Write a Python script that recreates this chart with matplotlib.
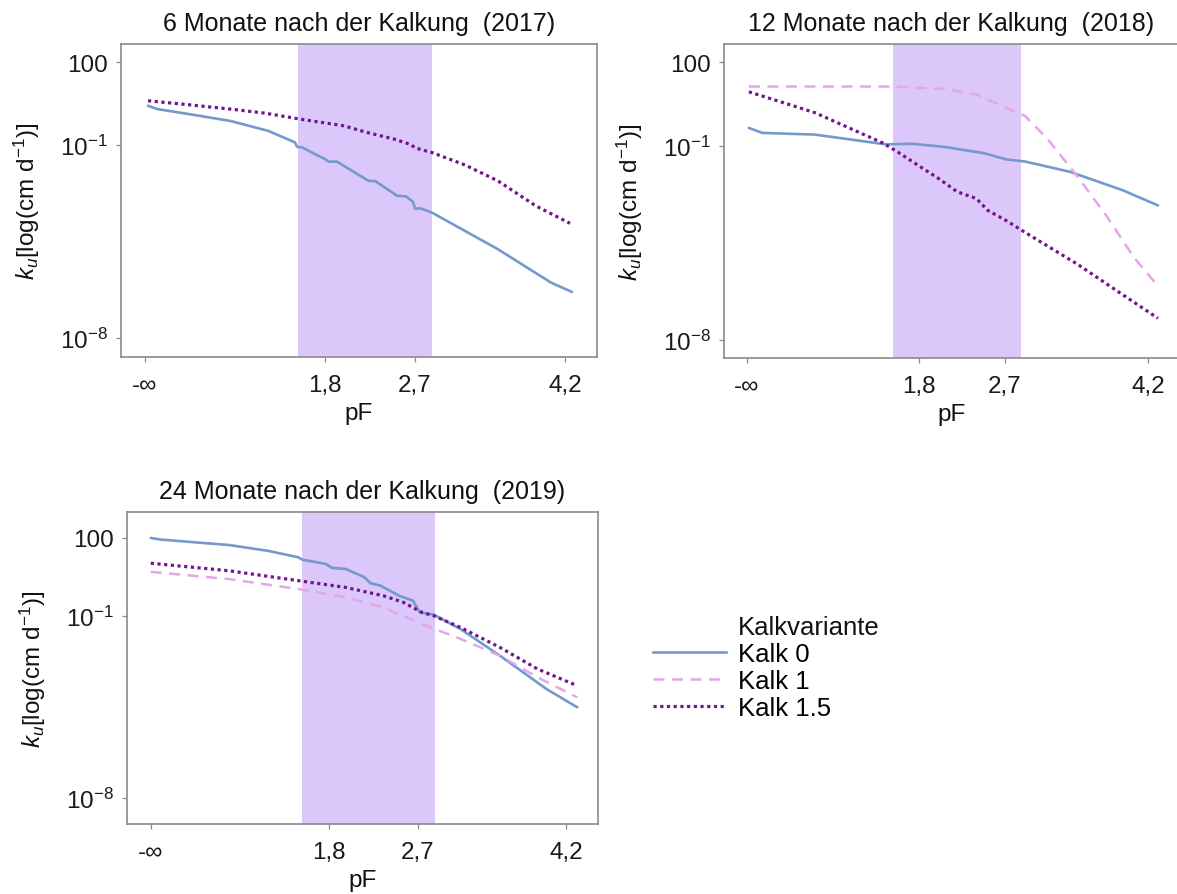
import matplotlib
matplotlib.use("Agg")
import numpy as np
import matplotlib.pyplot as plt
from matplotlib.lines import Line2D

plt.rcParams['font.family'] = ['Liberation Sans', 'DejaVu Sans']
plt.rcParams['mathtext.fontset'] = 'custom'
plt.rcParams['mathtext.rm'] = 'Liberation Sans'
plt.rcParams['mathtext.it'] = 'Liberation Sans:italic'
plt.rcParams['mathtext.bf'] = 'Liberation Sans:bold'

# ---- unsaturated hydraulic conductivity, log10(ku) over pF ----
# 2017 (6 months)
pf_17_k0 = [0.03, 0.12, 0.45, 0.85, 1.23, 1.50, 1.52, 1.57, 1.80, 1.84, 1.92, 2.20, 2.24, 2.30,
            2.49, 2.52, 2.61, 2.68, 2.70, 2.76, 2.87, 3.53, 4.06, 4.27]
lk_17_k0 = [0.43, 0.31, 0.12, -0.12, -0.48, -0.90, -1.06, -1.08, -1.51, -1.60, -1.60, -2.22, -2.30, -2.30,
            -2.76, -2.84, -2.86, -3.06, -3.30, -3.30, -3.45, -4.78, -5.99, -6.33]
pf_17_k15 = [0.03, 0.45, 0.85, 1.20, 1.54, 1.99, 2.22, 2.49, 2.66, 2.70, 2.87, 3.20, 3.53, 3.91, 4.25]
lk_17_k15 = [0.61, 0.46, 0.31, 0.16, -0.05, -0.30, -0.54, -0.78, -0.98, -1.10, -1.27, -1.72, -2.30, -3.21, -3.84]

# 2018 (12 months)
pf_18_k0 = [0.02, 0.16, 0.71, 1.45, 1.73, 2.08, 2.48, 2.71, 2.91, 3.38, 3.93, 4.30]
lk_18_k0 = [-0.36, -0.54, -0.60, -0.95, -0.93, -1.05, -1.27, -1.49, -1.57, -1.94, -2.60, -3.15]
pf_18_k1 = [0.02, 1.50, 2.08, 2.40, 2.67, 2.91, 3.15, 3.46, 3.77, 4.05, 4.30]
lk_18_k1 = [1.13, 1.13, 1.04, 0.85, 0.43, 0.07, -0.78, -2.12, -3.57, -5.03, -6.05]
pf_18_k15 = [0.02, 0.71, 1.42, 1.57, 1.81, 2.00, 2.20, 2.40, 2.52, 2.71, 2.91, 3.46, 3.93, 4.30]
lk_18_k15 = [0.94, 0.19, -0.90, -1.21, -1.75, -2.17, -2.66, -2.90, -3.33, -3.69, -4.12, -5.27, -6.36, -7.21]

# 2019 (24 months)
pf_19_k0 = [0.00, 0.10, 0.79, 1.18, 1.49, 1.53, 1.77, 1.83, 1.97, 2.16, 2.22, 2.32, 2.51, 2.65,
            2.72, 2.86, 3.13, 3.53, 4.00, 4.31]
lk_19_k0 = [2.00, 1.94, 1.73, 1.51, 1.26, 1.17, 1.00, 0.85, 0.81, 0.49, 0.26, 0.17, -0.22, -0.41,
            -0.86, -0.95, -1.50, -2.53, -3.81, -4.51]
pf_19_k1 = [0.00, 0.79, 1.49, 1.97, 2.35, 2.74, 3.13, 3.53, 3.91, 4.31]
lk_19_k1 = [0.70, 0.42, 0.04, -0.28, -0.67, -1.31, -1.88, -2.53, -3.36, -4.13]
pf_19_k15 = [0.00, 0.79, 1.49, 1.97, 2.35, 2.55, 2.74, 2.86, 3.13, 3.53, 3.91, 4.31]
lk_19_k15 = [1.03, 0.74, 0.36, 0.10, -0.22, -0.47, -0.86, -0.99, -1.44, -2.21, -3.04, -3.68]

titles = ["6 Monate nach der Kalkung  (2017)",
          "12 Monate nach der Kalkung  (2018)",
          "24 Monate nach der Kalkung  (2019)"]
series_names = ["Kalk 0", "Kalk 1", "Kalk 1.5"]
legend_title = "Kalkvariante"

x_ticks = [0.0, 1.8, 2.7, 4.2]
x_ticklabels = ["-\u221e", "1,8", "2,7", "4,2"]
y_ticks = [1e2, 1e-1, 1e-8]
y_ticklabels = ["100", r"$10^{-1}$", r"$10^{-8}$"]
band = (1.53, 2.87)

colors = {"Kalk 0": "#7499cc", "Kalk 1": "#e3a6e8", "Kalk 1.5": "#70168a"}
styles = {
    "Kalk 0": dict(linestyle="-", linewidth=1.9),
    "Kalk 1": dict(linestyle=(0, (4.4, 3.0)), linewidth=1.8),
    "Kalk 1.5": dict(linestyle=(0, (1.0, 1.1)), linewidth=2.3),
}

panels = [
    (titles[0], [("Kalk 0", pf_17_k0, lk_17_k0), ("Kalk 1.5", pf_17_k15, lk_17_k15)],
     (121, 45, 597, 358), (-8.69, 2.67)),
    (titles[1], [("Kalk 0", pf_18_k0, lk_18_k0), ("Kalk 1", pf_18_k1, lk_18_k1),
                 ("Kalk 1.5", pf_18_k15, lk_18_k15)],
     (724, 45, 1179, 359), (-8.64, 2.66)),
    (titles[2], [("Kalk 0", pf_19_k0, lk_19_k0), ("Kalk 1", pf_19_k1, lk_19_k1),
                 ("Kalk 1.5", pf_19_k15, lk_19_k15)],
     (127, 513, 598, 825), (-9.0, 3.0)),
]

W, H = 1177, 895
fig = plt.figure(figsize=(W / 100, H / 100), dpi=100)
fig.patch.set_facecolor("white")

FS = 17.5
frame_col = "#8a8a8a"

for title, series, (l, t, r, b), (ylo, yhi) in panels:
    ax = fig.add_axes([l / W, 1 - b / H, (r - l) / W, (b - t) / H])
    ax.axvspan(band[0], band[1], color="#dcc7fa", zorder=0, lw=0)
    for name, pf, lk in series:
        ax.plot(pf, 10 ** np.asarray(lk), color=colors[name], zorder=2,
                solid_capstyle="round", solid_joinstyle="round", **styles[name])
    ax.set_yscale("log")
    ax.set_ylim(10 ** ylo, 10 ** yhi)
    ax.set_xlim(-0.24, 4.52)
    ax.set_yticks(y_ticks)
    ax.set_yticklabels(y_ticklabels)
    ax.yaxis.set_minor_locator(matplotlib.ticker.NullLocator())
    ax.set_xticks(x_ticks)
    ax.set_xticklabels(x_ticklabels)
    ax.tick_params(axis="both", which="major", length=3.5, width=0.9, color=frame_col,
                   labelsize=FS, pad=6, labelcolor="#1a1a1a")
    ax.tick_params(axis="x", pad=9)
    for sp in ax.spines.values():
        sp.set_color(frame_col)
        sp.set_linewidth(1.2)
    ax.set_title(title, fontsize=FS + 0.5, pad=10, color="#111111")
    ax.set_xlabel("pF", fontsize=FS, labelpad=4, color="#111111")
    ax.set_ylabel(r"$k_u$[log(cm d$^{-1}$)]", fontsize=FS, labelpad=13, color="#111111")

# legend
handles = [Line2D([0], [0], color=colors[n], **styles[n]) for n in series_names]
fig.text(738 / W, 1 - 628 / H, legend_title, fontsize=FS + 1, va="center", ha="left",
         color="#111111")
fig.legend(handles, series_names, loc="upper left",
           bbox_to_anchor=(653 / W, 1 - 643 / H), frameon=False, fontsize=FS + 1,
           borderpad=0, borderaxespad=0, handlelength=2.85, handletextpad=0.45,
           labelspacing=0.12)

fig.savefig("out.png", dpi=100, facecolor="white")
